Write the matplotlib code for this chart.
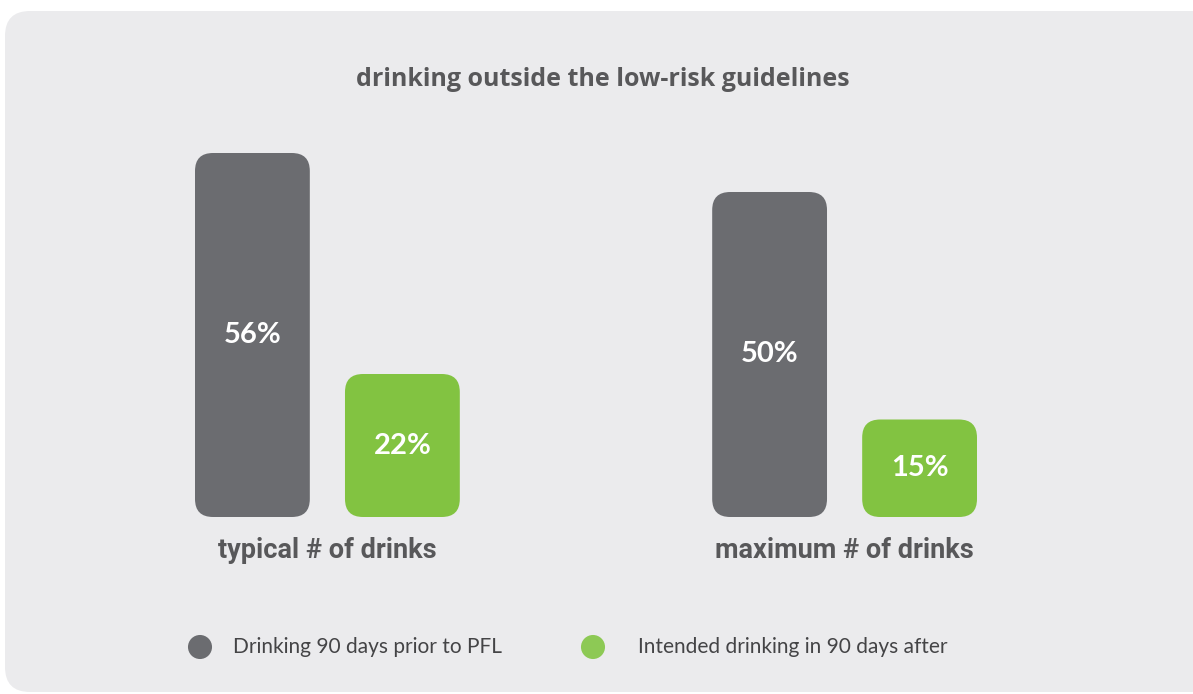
import matplotlib
matplotlib.use('Agg')
import matplotlib.pyplot as plt
from matplotlib.patches import FancyBboxPatch

# 資料
categories = ['typical # of drinks', 'maximum # of drinks']
prior_values = [56, 50]      # Drinking 90 days prior to PFL
after_values = [22, 15]      # Intended drinking in 90 days after
series_labels = ['Drinking 90 days prior to PFL', 'Intended drinking in 90 days after']
title = 'drinking outside the low-risk guidelines'

gray = '#6b6c70'
green = '#82c341'
text_dark = '#58585a'
panel_bg = '#ebebed'

W, H = 1193, 694
fig = plt.figure(figsize=(W / 100, H / 100), dpi=100)
fig.patch.set_facecolor('white')

# 背景面板 (像素座標)
bg = fig.add_axes([0, 0, 1, 1])
bg.set_xlim(0, W)
bg.set_ylim(0, H)
bg.axis('off')
bg.add_patch(FancyBboxPatch((5, 2), 1230, 681, boxstyle='round,pad=0,rounding_size=25',
                            facecolor=panel_bg, edgecolor='none'))

# 長條圖
ax = fig.add_axes([195 / W, (H - 517) / H, (977 - 195) / W, 390 / H])
ax.set_xlim(-0.256, 1.256)
ax.set_ylim(0, 60)
ax.axis('off')

x = range(len(categories))
bw = 0.222
off = 0.145
bars1 = ax.bar([i - off for i in x], prior_values, width=bw, color=gray)
bars2 = ax.bar([i + off for i in x], after_values, width=bw, color=green)

# 將長條換成圓角
p0 = ax.transData.transform((0, 0))
p1 = ax.transData.transform((1, 1))
px_x = p1[0] - p0[0]
px_y = p1[1] - p0[1]
aspect = px_x / px_y
radius = 18 / px_x
for bars in (bars1, bars2):
    for b in bars:
        b.set_visible(False)
        rb = FancyBboxPatch((b.get_x(), b.get_y()), b.get_width(), b.get_height(),
                            boxstyle=f'round,pad=0,rounding_size={radius}',
                            mutation_aspect=aspect,
                            facecolor=b.get_facecolor(), edgecolor='none')
        ax.add_patch(rb)
        ax.text(b.get_x() + b.get_width() / 2, b.get_height() / 2,
                f'{int(round(b.get_height()))}%', ha='center', va='center',
                color='white', fontsize=21, fontfamily='Lato', fontweight='bold')

for i, c in enumerate(categories):
    ax.text(i, -3.0, c, ha='center', va='top', color=text_dark, fontsize=19.5,
            fontfamily='Roboto', fontweight='bold')

fig.text(603 / W, 1 - 79 / H, title, ha='center', va='center', color=text_dark,
         fontsize=18, fontfamily='Open Sans', fontweight='bold')

# 圖例
leg_x = [200, 593]
leg_tx = [233, 638]
for cx, tx, col, lab in zip(leg_x, leg_tx, [gray, '#8dc955'], series_labels):
    bg.scatter([cx], [H - 647], s=300, color=col, edgecolors='none')
    bg.text(tx, H - 647, lab, ha='left', va='center', color='#444446',
            fontsize=15, fontfamily='Lato')

fig.savefig('out.png', dpi=100, facecolor='white')
